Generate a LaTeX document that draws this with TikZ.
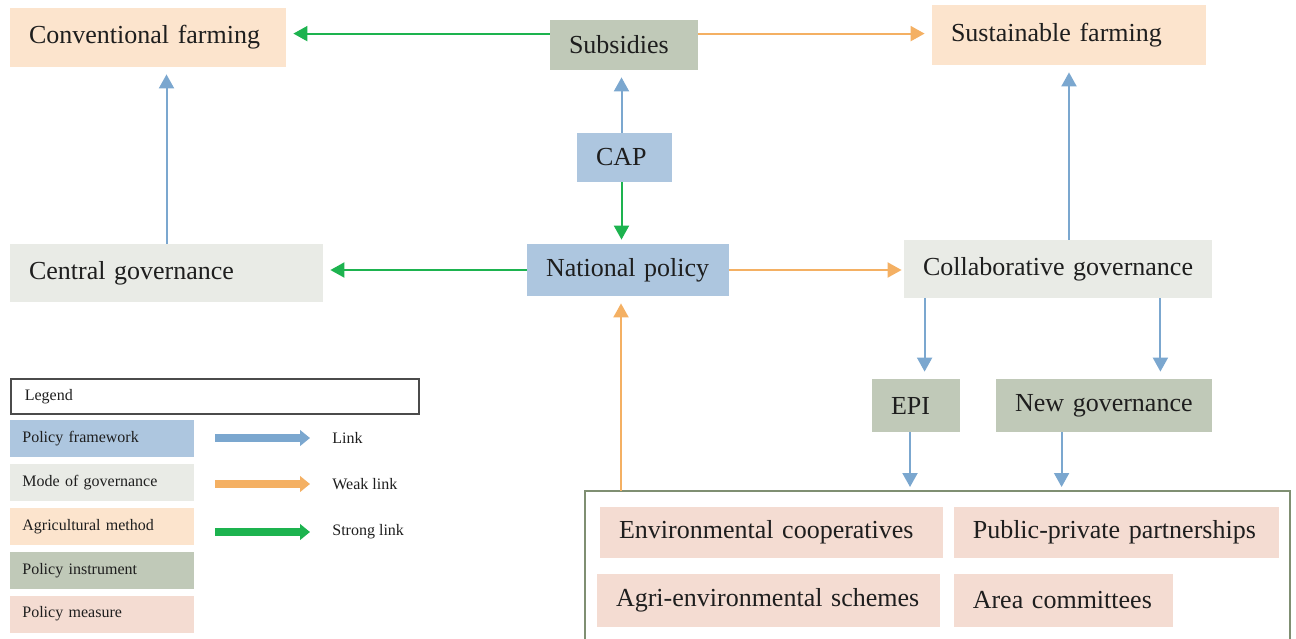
\documentclass[tikz,border=0pt]{standalone}
\usepackage{fontspec}
\setmainfont{Liberation Serif}
\usetikzlibrary{positioning,arrows.meta}

\definecolor{frameblue}{HTML}{ADC6DF}
\definecolor{govgray}{HTML}{E9EBE6}
\definecolor{methodpeach}{HTML}{FCE4CD}
\definecolor{instrgreen}{HTML}{C0C9B8}
\definecolor{measurepink}{HTML}{F4DCD2}
\definecolor{linkblue}{HTML}{7BA7CF}
\definecolor{weakorange}{HTML}{F4B063}
\definecolor{stronggreen}{HTML}{1DB34F}
\definecolor{groupframe}{HTML}{7F8F72}
\definecolor{textdark}{HTML}{1E1E1E}

\begin{document}
\begin{tikzpicture}[
  x=0.5pt, y=-0.5pt,
  box/.style 2 args={text width=#1, minimum height=#2, inner xsep=9.5pt, inner ysep=0pt,
    align=left, font=\fontsize{13}{15}\selectfont, text=textdark},
  legitem/.style={text width=80pt, minimum height=18.5pt, inner xsep=6pt, inner ysep=0pt,
    align=left, font=\fontsize{8}{10}\selectfont, text=textdark},
  legtext/.style={anchor=west, inner sep=0pt, font=\fontsize{8}{10}\selectfont, text=textdark},
  lnk/.style={-{Triangle[length=7pt, width=7.5pt]}, line width=1pt, draw=linkblue, shorten >=3.5pt},
  weak/.style={lnk, draw=weakorange},
  strong/.style={lnk, draw=stronggreen},
  biglnk/.style={-{Triangle[length=5pt, width=7.8pt]}, line width=3.8pt, shorten >=11pt}
]
\useasboundingbox (0,0) rectangle (1296,638);

% top row
\node[box={119pt}{29.5pt}, fill=methodpeach] (conv) at (148,37.5) {Conventional farming};
\node[box={55pt}{25pt}, fill=instrgreen] (subs) at (624,45) {Subsidies};
\node[box={118pt}{30pt}, fill=methodpeach] (sust) at (1069,35) {Sustainable farming};
\node[box={28.5pt}{24.5pt}, fill=frameblue] (cap) at (624.5,157.5) {CAP};

% middle row
\node[box={137.5pt}{29pt}, fill=govgray] (central) at (166.5,273) {Central governance};
\node[box={82pt}{26pt}, fill=frameblue] (national) at (628,270) {National policy};
\node[box={135pt}{29pt}, fill=govgray] (collab) at (1058,269) {Collaborative governance};
\node[box={25pt}{26.5pt}, fill=instrgreen] (epi) at (916,405.5) {EPI};
\node[box={89pt}{26.5pt}, fill=instrgreen] (newgov) at (1104,405.5) {New governance};

% policy measures
\coordinate (grpleft) at (585,640);
\coordinate (grptl) at (585,491);
\coordinate (grptr) at (1290,491);
\coordinate (grpright) at (1290,640);
\draw[groupframe, line width=1.2pt] (grpleft) -- (grptl) -- (grptr) -- (grpright);
\node[box={152.5pt}{25.5pt}, fill=measurepink] (envcoop) at (771.5,532.5) {Environmental cooperatives};
\node[box={143.5pt}{25.5pt}, fill=measurepink, right=5pt of envcoop] (ppp) {Public-private partnerships};
\node[box={152.5pt}{26.5pt}, fill=measurepink] (agrienv) at (768.5,600.5) {Agri-environmental schemes};
\node[box={90.5pt}{26.5pt}, fill=measurepink, right=6.5pt of agrienv] (area) {Area committees};

% legend
\node[draw=textdark!80, line width=0.8pt, text width=190pt, minimum height=17.5pt, inner xsep=7pt,
  inner ysep=0pt, align=left, anchor=north west, font=\fontsize{8}{10}\selectfont, text=textdark]
  (legend) at (10,378) {Legend};
\node[legitem, fill=frameblue, anchor=north west] (lgframe) at (10,420) {Policy framework};
\node[legitem, fill=govgray, below=3pt of lgframe] (lggov) {Mode of governance};
\node[legitem, fill=methodpeach, below=3pt of lggov] (lgmethod) {Agricultural method};
\node[legitem, fill=instrgreen, below=3pt of lgmethod] (lginstr) {Policy instrument};
\node[legitem, fill=measurepink, below=3pt of lginstr] (lgmeasure) {Policy measure};

\coordinate (lgl1) at (215,438);
\coordinate (lgl2) at (215,484);
\coordinate (lgl3) at (215,532);
\node[legtext] (lgt1) at (332,438) {Link};
\node[legtext] (lgt2) at (332,484) {Weak link};
\node[legtext] (lgt3) at (332,532) {Strong link};
\draw[biglnk, draw=linkblue] (lgl1) -- (lgt1);
\draw[biglnk, draw=weakorange] (lgl2) -- (lgt2);
\draw[biglnk, draw=stronggreen] (lgl3) -- (lgt3);

% links
\draw[strong] ([yshift=-7pt]subs.north west) -- ([yshift=-7pt]subs.north west -| conv.east);
\draw[weak] ([yshift=-7pt]subs.north east) -- ([yshift=-7pt]subs.north east -| sust.west);
\draw[lnk] ([xshift=-1.5pt]cap.north) -- ([xshift=-1.5pt]cap.north |- subs.south);
\draw[strong, shorten >=2pt] ([xshift=-1.5pt]cap.south) -- ([xshift=-1.5pt]cap.south |- national.north);
\draw[strong] (national.west) -- (national.west -| central.east);
\draw[weak, shorten >=1pt] (national.east) -- (national.east -| collab.west);
\draw[lnk] (central.north) -- (central.north |- conv.south);
\draw[lnk] (collab.north -| sust.south) -- (sust.south);
\draw[lnk] ([xshift=10.5pt]collab.south west) -- ([xshift=10.5pt]collab.south west |- epi.north);
\draw[lnk] ([xshift=-26pt]collab.south east) -- ([xshift=-26pt]collab.south east |- newgov.north);
\draw[lnk, shorten >=2pt] ([xshift=-3pt]epi.south) -- ([xshift=-3pt]epi.south |- grptl);
\draw[lnk, shorten >=2pt] ([xshift=33pt]newgov.south west) -- ([xshift=33pt]newgov.south west |- grptl);
\draw[weak] (grptl -| national.south) ++(-3.5pt,0) coordinate (grpout) (grpout) -- (grpout |- national.south);
\end{tikzpicture}
\end{document}
